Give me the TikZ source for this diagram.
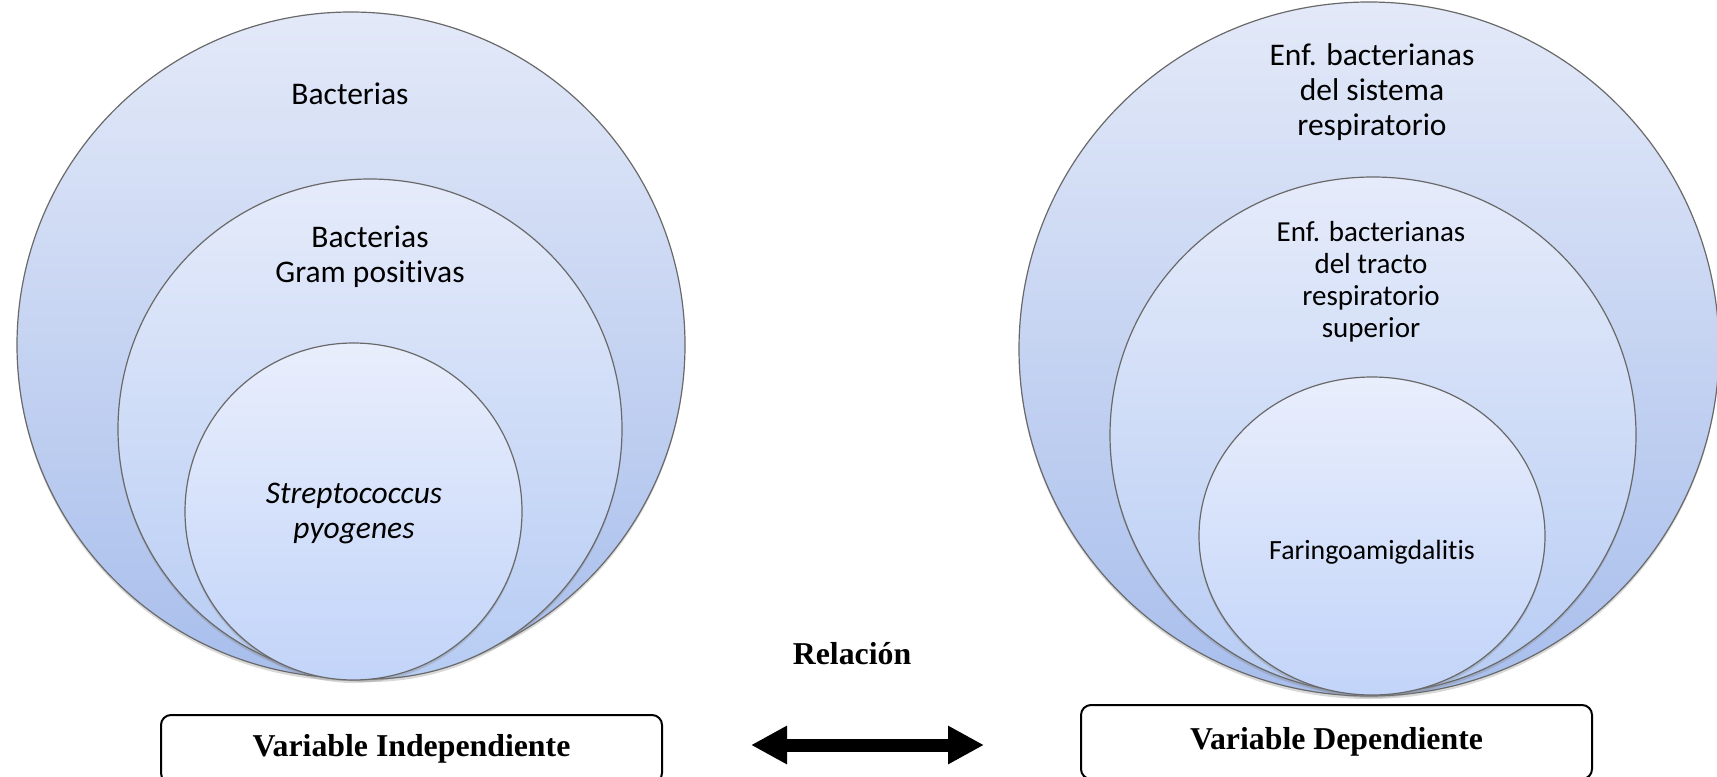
\documentclass[tikz,border=0pt]{standalone}
\usepackage{fontspec}
\newfontfamily\calibri[Ligatures=CommonOff]{Carlito}
\newfontfamily\timesf{Liberation Serif}
\usetikzlibrary{shapes.geometric,arrows.meta,shadows}
\definecolor{ringline}{RGB}{105,105,105}
\definecolor{outtop}{RGB}{227,233,248}
\definecolor{outbot}{RGB}{168,190,236}
\definecolor{midtop}{RGB}{229,235,250}
\definecolor{midbot}{RGB}{183,204,244}
\definecolor{intop}{RGB}{233,238,252}
\definecolor{inbot}{RGB}{194,212,249}

\begin{document}
\begin{tikzpicture}[
    x=0.5pt, y=-0.5pt,
    ring/.style={ellipse, draw=ringline, line width=0.6pt, inner sep=0pt, outer sep=0pt,
                 drop shadow={shadow xshift=0pt, shadow yshift=-1.5pt, opacity=0.3}},
    bigring/.style={ring, top color=outtop, bottom color=outbot},
    midring/.style={ring, top color=midtop, bottom color=midbot},
    smallring/.style={ring, top color=intop, bottom color=inbot},
    lbl/.style={align=center, inner sep=0pt, font=\calibri\fontsize{15.75pt}{17.5pt}\selectfont},
    varbox/.style={draw, line width=1pt, rounded corners=5pt, inner sep=0pt,
                   font=\timesf\bfseries\fontsize{15.9pt}{18pt}\selectfont},
    rel/.style={line width=6.5pt, {Triangle[length=18pt,width=18pt]}-{Triangle[length=18pt,width=18pt]}}]

    \useasboundingbox (0,0) rectangle (1717,776);
    \clip (0,0) rectangle (1717,776);

    % variable independiente
    \node[bigring, minimum width=334pt, minimum height=333pt] (b1) at (351,345) {};
    \node[midring, minimum width=252pt, minimum height=250pt] (b2) at (370,429) {};
    \node[smallring, minimum width=168.5pt, minimum height=168.5pt] (b3) at (353.5,511.5) {};

    \node[lbl] (t1) at (350,94) {Bacterias};
    \node[lbl] (t2) at (370,257) {Bacterias\\Gram positivas};
    \node[lbl, font=\calibri\itshape\fontsize{15.75pt}{17.5pt}\selectfont] (t3) at (354,513) {Streptococcus\\pyogenes};

    % variable dependiente
    \node[bigring, minimum width=350pt, minimum height=347pt] (e1) at (1369,349) {};
    \node[midring, minimum width=263pt, minimum height=258pt] (e2) at (1373,435) {};
    \node[smallring, minimum width=173pt, minimum height=159pt] (e3) at (1372,536) {};

    \node[lbl] (s1) at (1372,92) {Enf. bacterianas\\del sistema\\respiratorio};
    \node[lbl, font=\calibri\fontsize{14.5pt}{16pt}\selectfont] (s2) at (1371,282) {Enf. bacterianas\\del tracto\\respiratorio\\superior};
    \node[lbl, font=\calibri\fontsize{13.9pt}{16pt}\selectfont] (s3) at (1372,552) {Faringoamigdalitis};

    % relacion
    \node[varbox, minimum width=250.5pt, minimum height=34pt] (vi) at (411.5,749) {Variable Independiente};
    \node[varbox, minimum width=255.5pt, minimum height=37pt] (vd) at (1336.5,742) {Variable Dependiente};
    \node[varbox, draw=none] (rl) at (852,654) {Relación};

    \coordinate (al) at (751,745);
    \coordinate (ar) at (984,745);
    \draw[rel] (al) -- (ar);

\end{tikzpicture}
\end{document}
